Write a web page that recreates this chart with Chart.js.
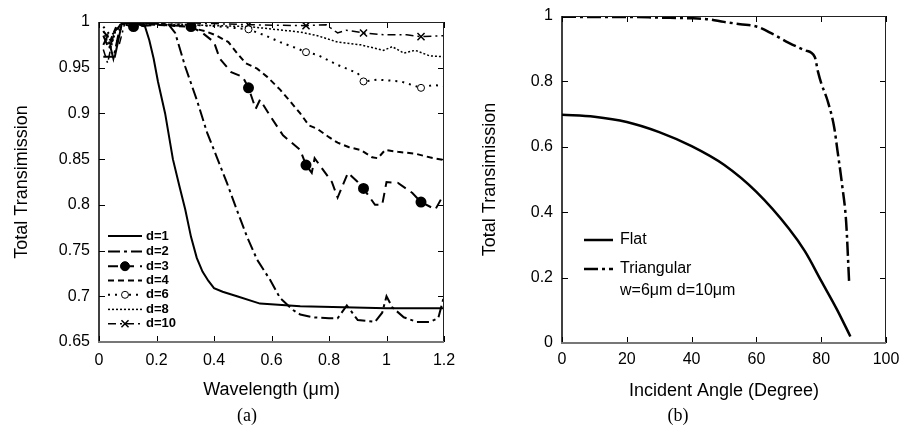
<!DOCTYPE html>
<html>
<head>
<meta charset="utf-8">
<script src="https://cdn.jsdelivr.net/npm/chart.js@4.4.1/dist/chart.umd.min.js"></script>
<style>
body { margin: 0; background: #fff; }
#wrap { position: relative; width: 899px; height: 428px; overflow: hidden; }
#left { position: absolute; left: 0; top: 0; }
#right { position: absolute; left: 450px; top: 0; }
.cap { position: absolute; top: 405px; width: 60px; text-align: center; font-family: "Liberation Serif", "Times New Roman", serif; font-size: 18px; }
</style>
</head>
<body>
<div id="wrap">
  <canvas id="left" width="470" height="428" style="width:470px;height:428px"></canvas>
  <canvas id="right" width="449" height="428" style="width:449px;height:428px"></canvas>
  <div class="cap" style="left:217px">(a)</div>
  <div class="cap" style="left:648px">(b)</div>
</div>
<script>
// ---- (a) wavelength data ----
var xTicksA = [0, 0.2, 0.4, 0.6, 0.8, 1, 1.2];
var xLabelsA = ["0", "0.2", "0.4", "0.6", "0.8", "1", "1.2"];
var yTicksA = [0.65, 0.7, 0.75, 0.8, 0.85, 0.9, 0.95, 1];
var yLabelsA = ["0.65", "0.7", "0.75", "0.8", "0.85", "0.9", "0.95", "1"];
var markX = [0.12, 0.32, 0.52, 0.72, 0.92, 1.12];

var d1X = [0.015, 0.055, 0.08, 0.12, 0.16, 0.175, 0.19, 0.205, 0.23, 0.257, 0.28, 0.30, 0.32, 0.34, 0.36, 0.38, 0.40, 0.43, 0.48, 0.56, 0.7, 0.85, 1.0, 1.2];
var d1Y = [0.962, 0.962, 0.999, 0.999, 0.995, 0.98, 0.96, 0.935, 0.90, 0.85, 0.82, 0.795, 0.765, 0.742, 0.727, 0.717, 0.709, 0.705, 0.70, 0.692, 0.689, 0.688, 0.687, 0.687];

var d2X = [0.015, 0.03, 0.05, 0.07, 0.09, 0.12, 0.2, 0.24, 0.265, 0.30, 0.34, 0.376, 0.41, 0.445, 0.48, 0.515, 0.55, 0.595, 0.63, 0.675, 0.70, 0.745, 0.80, 0.83, 0.862, 0.90, 0.96, 0.985, 1.0, 1.02, 1.06, 1.105, 1.15, 1.18, 1.2];
var d2Y = [0.975, 0.985, 0.96, 0.99, 0.999, 0.999, 0.998, 0.998, 0.988, 0.951, 0.915, 0.879, 0.852, 0.824, 0.794, 0.765, 0.74, 0.718, 0.698, 0.685, 0.68, 0.677, 0.676, 0.676, 0.69, 0.674, 0.672, 0.682, 0.70, 0.688, 0.677, 0.672, 0.672, 0.676, 0.70];

var d3X = [0.015, 0.035, 0.055, 0.08, 0.12, 0.2, 0.28, 0.32, 0.36, 0.40, 0.42, 0.46, 0.50, 0.52, 0.545, 0.56, 0.60, 0.64, 0.70, 0.72, 0.74, 0.75, 0.81, 0.83, 0.866, 0.90, 0.92, 0.96, 0.985, 1.0, 1.04, 1.09, 1.12, 1.17, 1.2];
var d3Y = [0.985, 0.97, 0.99, 0.998, 0.995, 0.997, 0.996, 0.995, 0.988, 0.978, 0.96, 0.945, 0.94, 0.928, 0.905, 0.915, 0.895, 0.876, 0.86, 0.8435, 0.835, 0.851, 0.825, 0.808, 0.835, 0.825, 0.818, 0.80, 0.80, 0.825, 0.824, 0.813, 0.803, 0.795, 0.812];

var d4X = [0.015, 0.04, 0.06, 0.08, 0.12, 0.2, 0.3, 0.37, 0.41, 0.45, 0.48, 0.51, 0.55, 0.585, 0.63, 0.66, 0.70, 0.73, 0.76, 0.80, 0.83, 0.87, 0.91, 0.95, 0.97, 0.995, 1.04, 1.1, 1.15, 1.2];
var d4Y = [0.99, 0.98, 0.995, 0.998, 0.998, 0.997, 0.995, 0.99, 0.985, 0.978, 0.966, 0.955, 0.949, 0.94, 0.926, 0.915, 0.90, 0.887, 0.883, 0.874, 0.868, 0.863, 0.86, 0.852, 0.851, 0.86, 0.858, 0.856, 0.852, 0.849];

var d6X = [0.015, 0.04, 0.06, 0.08, 0.12, 0.2, 0.32, 0.42, 0.52, 0.58, 0.63, 0.69, 0.72, 0.76, 0.83, 0.9, 0.92, 0.97, 1.05, 1.09, 1.12, 1.16, 1.2];
var d6Y = [0.995, 0.985, 0.99, 0.998, 0.998, 0.998, 0.997, 0.995, 0.992, 0.985, 0.978, 0.971, 0.967, 0.964, 0.953, 0.944, 0.935, 0.937, 0.935, 0.931, 0.928, 0.931, 0.93];

var d8X = [0.015, 0.04, 0.06, 0.08, 0.12, 0.3, 0.52, 0.7, 0.76, 0.83, 0.91, 0.99, 1.02, 1.06, 1.1, 1.15, 1.2];
var d8Y = [0.99, 0.97, 0.993, 0.998, 0.998, 0.997, 0.995, 0.989, 0.985, 0.978, 0.975, 0.969, 0.973, 0.966, 0.969, 0.963, 0.962];

var d10X = [0.015, 0.03, 0.05, 0.07, 0.09, 0.12, 0.32, 0.52, 0.72, 0.79, 0.83, 0.86, 0.92, 0.99, 1.07, 1.12, 1.2];
var d10Y = [0.97, 0.955, 0.985, 0.975, 0.999, 1.0, 0.999, 0.997, 0.996, 0.997, 0.988, 0.991, 0.988, 0.986, 0.986, 0.984, 0.985];

// ---- (b) incident angle data ----
var xTicksB = [0, 20, 40, 60, 80, 100];
var xLabelsB = ["0", "20", "40", "60", "80", "100"];
var yTicksB = [0, 0.2, 0.4, 0.6, 0.8, 1];
var yLabelsB = ["0", "0.2", "0.4", "0.6", "0.8", "1"];

var flatAngle = [0, 10, 20, 30, 40, 50, 60, 70, 75, 80, 85, 89];
var flatT = [0.698, 0.692, 0.676, 0.645, 0.602, 0.545, 0.462, 0.35, 0.28, 0.19, 0.1, 0.02];

var triAngle = [0, 10, 20, 30, 40, 45, 50, 55, 60, 65, 70, 75, 78, 79, 80, 82, 84, 85, 86.5, 87.7, 88.6];
var triT = [0.998, 0.997, 0.997, 0.995, 0.993, 0.99, 0.982, 0.975, 0.968, 0.945, 0.918, 0.895, 0.875, 0.83, 0.795, 0.74, 0.66, 0.59, 0.48, 0.37, 0.19];

var FONT = "'Liberation Sans', Arial, Helvetica, sans-serif";

function pts(xs, ys) {
    return xs.map(function(x, i) { return {x: x, y: ys[i]}; });
}

function markerRadius(r) {
    return function(c) {
        var x = c.raw ? c.raw.x : null;
        var hit = markX.some(function(m) { return Math.abs(m - x) < 1e-6; });
        return hit ? r : 0;
    };
}

function line(label, xs, ys, dash, width, extra) {
    var ds = {
        label: label,
        data: pts(xs, ys),
        borderColor: "#000",
        backgroundColor: "#000",
        borderWidth: width,
        borderDash: dash,
        pointRadius: 0,
        tension: 0,
        fill: false
    };
    for (var k in extra) ds[k] = extra[k];
    return ds;
}

function noPad(s) {
    s.paddingLeft = 0; s.paddingRight = 0; s.paddingTop = 0; s.paddingBottom = 0;
}

// inward ticks on all four sides plus the frame
var frameTicks = {
    id: "frameTicks",
    afterDatasetsDraw: function(chart) {
        var ctx = chart.ctx, a = chart.chartArea;
        var xs = chart.scales.x, ys = chart.scales.y;
        ctx.save();
        ctx.strokeStyle = "#000";
        ctx.lineWidth = 1;
        ctx.beginPath();
        xs.ticks.forEach(function(t, i) {
            var px = Math.round(xs.getPixelForTick(i)) + 0.5;
            ctx.moveTo(px, a.bottom); ctx.lineTo(px, a.bottom - 6);
            ctx.moveTo(px, a.top); ctx.lineTo(px, a.top + 6);
        });
        ys.ticks.forEach(function(t, i) {
            var py = Math.round(ys.getPixelForTick(i)) + 0.5;
            ctx.moveTo(a.left, py); ctx.lineTo(a.left + 6, py);
            ctx.moveTo(a.right, py); ctx.lineTo(a.right - 6, py);
        });
        ctx.stroke();
        ctx.strokeStyle = "#222";
        ctx.beginPath();
        ctx.moveTo(a.left, a.top + 0.5); ctx.lineTo(a.right, a.top + 0.5);
        ctx.moveTo(a.right - 0.5, a.top); ctx.lineTo(a.right - 0.5, a.bottom);
        ctx.stroke();
        ctx.strokeStyle = "#000";
        ctx.lineWidth = 1.5;
        ctx.beginPath();
        ctx.moveTo(a.left, a.top); ctx.lineTo(a.left, a.bottom);
        ctx.stroke();
        ctx.strokeStyle = "#777";
        ctx.lineWidth = 2;
        ctx.beginPath();
        ctx.moveTo(a.left - 1, a.bottom); ctx.lineTo(a.right, a.bottom);
        ctx.stroke();
        ctx.restore();
    }
};

// legend drawn inside the plot area
var inLegend = {
    id: "inLegend",
    afterDraw: function(chart, args, opts) {
        var ctx = chart.ctx, a = chart.chartArea;
        var y = opts.top;
        chart.data.datasets.forEach(function(ds, i) {
            var x0 = a.left + opts.left, x1 = x0 + opts.sample;
            ctx.save();
            ctx.strokeStyle = "#000";
            ctx.fillStyle = "#000";
            ctx.lineWidth = ds.borderWidth;
            ctx.setLineDash(ds.borderDash || []);
            ctx.beginPath();
            ctx.moveTo(x0, y); ctx.lineTo(x1, y);
            ctx.stroke();
            ctx.setLineDash([]);
            if (ds.markerSize) {
                ctx.fillStyle = ds.pointBackgroundColor || "#000";
                ctx.lineWidth = ds.pointBorderWidth || 1;
                Chart.helpers.drawPoint(ctx, {pointStyle: ds.pointStyle, radius: ds.markerSize, borderWidth: ds.pointBorderWidth || 1, rotation: 0}, (x0 + x1) / 2, y);
            }
            ctx.fillStyle = "#000";
            ctx.font = opts.font;
            ctx.textBaseline = "middle";
            [].concat(ds.label).forEach(function(s, k) {
                ctx.fillText(s, x1 + opts.gap, y + k * opts.lineH);
            });
            ctx.restore();
            y += opts.rows[i] || 0;
        });
    }
};

function axes(xMin, xMax, xTicks, xLabels, yMin, yMax, yTicks, yLabels, xTitle, yWidth, xHeight, yTitlePad, xTitlePad, xTickPad) {
    return {
        x: {
            type: "linear", min: xMin, max: xMax,
            grid: {display: false, drawTicks: false},
            border: {display: false},
            afterBuildTicks: function(s) { s.ticks = xTicks.map(function(v) { return {value: v}; }); },
            afterFit: function(s) { s.height = xHeight; noPad(s); },
            ticks: {
                color: "#000", padding: xTickPad, maxRotation: 0, autoSkip: false,
                font: {family: FONT, size: 16},
                callback: function(v, i) { return xLabels[i]; }
            },
            title: {display: true, text: xTitle, color: "#000", font: {family: FONT, size: 18}, padding: {top: 0, bottom: xTitlePad}}
        },
        y: {
            type: "linear", min: yMin, max: yMax,
            grid: {display: false, drawTicks: false},
            border: {display: false},
            afterBuildTicks: function(s) { s.ticks = yTicks.map(function(v) { return {value: v}; }); },
            afterFit: function(s) { s.width = yWidth; noPad(s); },
            ticks: {
                color: "#000", padding: 9, autoSkip: false,
                font: {family: FONT, size: 16},
                callback: function(v, i) { return yLabels[i]; }
            },
            title: {display: true, text: "Total Transimission", color: "#000", font: {family: FONT, size: 18}, padding: {top: yTitlePad, bottom: 0}}
        }
    };
}

var leftChart = new Chart(document.getElementById("left"), {
    type: "line",
    data: {
        datasets: [
            line("d=1", d1X, d1Y, [], 2),
            line("d=2", d2X, d2Y, [12, 4, 3, 4], 2),
            line("d=3", d3X, d3Y, [10, 6], 2, {pointRadius: markerRadius(4.5), pointStyle: "circle", markerSize: 4.5}),
            line("d=4", d4X, d4Y, [6, 4], 2),
            line("d=6", d6X, d6Y, [2, 5], 2, {pointRadius: markerRadius(3.5), pointStyle: "circle", pointBackgroundColor: "#fff", pointBorderWidth: 1, markerSize: 3.5}),
            line("d=8", d8X, d8Y, [2, 2], 1.5),
            line("d=10", d10X, d10Y, [8, 4, 2, 4], 1.5, {pointRadius: markerRadius(5), pointStyle: "crossRot", pointBorderWidth: 1.5, markerSize: 5})
        ]
    },
    options: {
        responsive: false,
        animation: false,
        devicePixelRatio: 1,
        events: [],
        layout: {padding: {left: 0, right: 26, top: 22, bottom: 0}},
        scales: axes(0, 1.2, xTicksA, xLabelsA, 0.65, 1, yTicksA, yLabelsA, "Wavelength (\u03bcm)", 99, 86, 11, 27, 9),
        plugins: {
            legend: {display: false},
            tooltip: {enabled: false},
            inLegend: {top: 236, left: 9, sample: 34, gap: 4, lineH: 0, rows: [15.6, 14.6, 14.3, 14.3, 14.6, 14.3, 14.3], font: "bold 13px " + FONT}
        }
    },
    plugins: [frameTicks, inLegend]
});

var rightChart = new Chart(document.getElementById("right"), {
    type: "line",
    data: {
        datasets: [
            line("Flat", flatAngle, flatT, [], 2.5, {tension: 0.3, cubicInterpolationMode: "monotone"}),
            line(["Triangular", "w=6\u03bcm d=10\u03bcm"], triAngle, triT, [14, 4, 3, 4], 2.5, {tension: 0.3, cubicInterpolationMode: "monotone"})
        ]
    },
    options: {
        responsive: false,
        animation: false,
        devicePixelRatio: 1,
        events: [],
        layout: {padding: {left: 0, right: 13, top: 16, bottom: 0}},
        scales: axes(0, 100, xTicksB, xLabelsB, 0, 1, yTicksB, yLabelsB, "Incident Angle (Degree)", 112, 85, 29, 26, 7),
        plugins: {
            legend: {display: false},
            tooltip: {enabled: false},
            inLegend: {top: 240, left: 22, sample: 29, gap: 7, lineH: 22, rows: [29, 0], font: "16px " + FONT}
        }
    },
    plugins: [frameTicks, inLegend]
});
</script>
</body>
</html>
